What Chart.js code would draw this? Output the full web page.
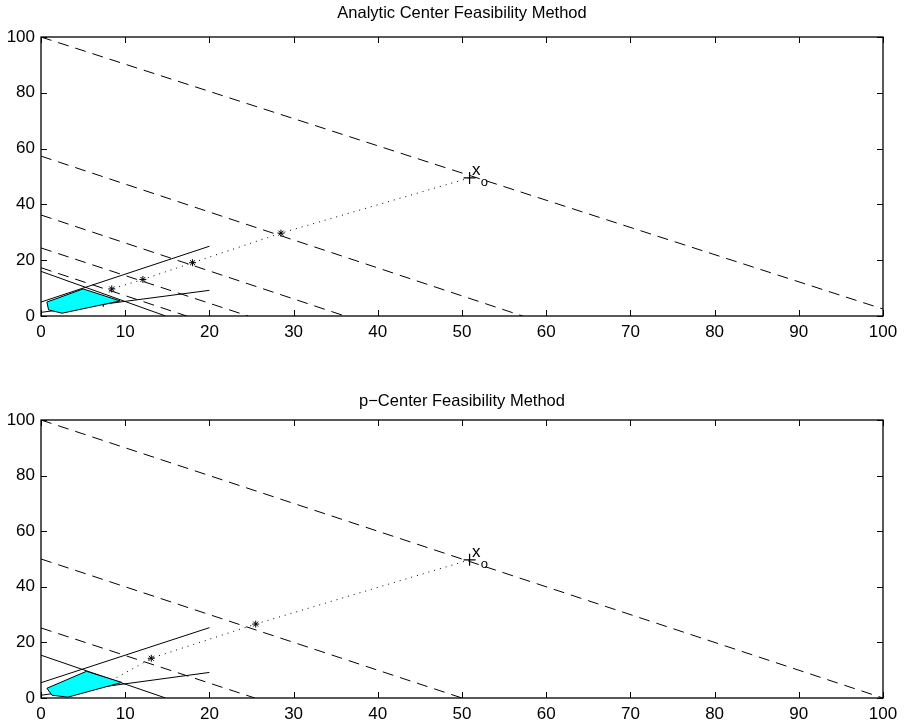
<!DOCTYPE html>
<html>
<head>
<title>Feasibility Methods</title>
<script src="https://cdn.jsdelivr.net/npm/chart.js"></script>
<style>
    body {
        margin: 0;
        background: #fff;
        width: 907px;
        height: 724px;
        overflow: hidden;
        position: relative;
    }
    canvas { position: absolute; left: 0; }
    #topChart { top: 0; }
    #bottomChart { top: 383px; }
</style>
</head>
<body>
<canvas id="topChart" width="907" height="345"></canvas>
<canvas id="bottomChart" width="907" height="341"></canvas>

<script>
// ---- data ----
const xTicks = [0, 10, 20, 30, 40, 50, 60, 70, 80, 90, 100];
const yTicks = [0, 20, 40, 60, 80, 100];

// Analytic center plot
const acTitle = 'Analytic Center Feasibility Method';
const acDashed = [[[0, 100], [100, 2.5]], [[0, 57.3], [57.2, 0]], [[0, 36.2], [36.1, 0]], [[0, 24.4], [24.6, 0]], [[0, 17.3], [17.3, 0]]];
const acSolid = [[[0, 5], [20, 25]], [[0, 1.3], [20, 9.2]], [[0, 16], [14.8, 0]]];
const acRegion = [[0.7, 5.0], [0.9, 2.2], [2.5, 1.0], [9.4, 5.4], [5.0, 9.7]];
const acPathX = [50.9, 28.5, 18.0, 12.1, 8.4, 7.4];
const acPathY = [49.5, 29.7, 19.1, 13.1, 9.7, 5.5];
const acStarX = [28.5, 18.0, 12.1, 8.4];
const acStarY = [29.7, 19.1, 13.1, 9.7];
const acPlusX = [50.9, 7.4];
const acPlusY = [49.5, 5.5];

// p-center plot
const pcTitle = 'p\u2212Center Feasibility Method';
const pcDashed = [[[0, 100], [100, 0]], [[0, 50], [50, 0]], [[0, 25.2], [25.4, 0]]];
const pcSolid = [[[0, 5.5], [20, 25.3]], [[0, 1.0], [20, 9.2]], [[0, 15.4], [14.8, 0]]];
const pcRegion = [[0.7, 3.5], [1.3, 1.0], [3.2, 0.3], [9.6, 5.6], [5.4, 9.6]];
const pcPathX = [50.9, 25.5, 13.1, 8.5];
const pcPathY = [49.7, 26.6, 14.3, 6.5];
const pcStarX = [25.5, 13.1];
const pcStarY = [26.6, 14.3];
const pcPlusX = [50.9];
const pcPlusY = [49.7];

// start point label x_o
const startLabelX = 51.7;
const startLabelY = 52.3;

const FONT = "'Liberation Sans', Arial, Helvetica, sans-serif";

function pts(xs, ys) {
    return xs.map((x, i) => ({ x: x, y: ys[i] }));
}
function seg(s) {
    return s.map(p => ({ x: p[0], y: p[1] }));
}

// inward ticks on all four sides + box + title + x_o label, like a matlab axes
const boxPlugin = {
    id: 'box',
    afterDatasetsDraw(chart, args, opts) {
        const ctx = chart.ctx;
        const a = chart.chartArea;
        const xs = chart.scales.x, ys = chart.scales.y;
        const len = 6;
        ctx.save();
        ctx.strokeStyle = '#000';
        ctx.lineWidth = 1;
        ctx.beginPath();
        xTicks.forEach(v => {
            const px = Math.round(xs.getPixelForValue(v)) + 0.5;
            ctx.moveTo(px, a.bottom); ctx.lineTo(px, a.bottom - len);
            ctx.moveTo(px, a.top); ctx.lineTo(px, a.top + len);
        });
        yTicks.forEach(v => {
            const py = Math.round(ys.getPixelForValue(v)) + 0.5;
            ctx.moveTo(a.left, py); ctx.lineTo(a.left + len, py);
            ctx.moveTo(a.right, py); ctx.lineTo(a.right - len, py);
        });
        ctx.stroke();
        ctx.lineWidth = 1.3;
        ctx.strokeRect(a.left, a.top, a.right - a.left, a.bottom - a.top);

        ctx.fillStyle = '#000';
        ctx.textAlign = 'center';
        ctx.textBaseline = 'middle';
        // title
        ctx.font = '16.5px ' + FONT;
        ctx.fillText(opts.title, (a.left + a.right) / 2, opts.titleY);
        // x_o label
        const lx = xs.getPixelForValue(startLabelX);
        const ly = ys.getPixelForValue(startLabelY);
        ctx.font = '17px ' + FONT;
        ctx.fillText('x', lx, ly);
        ctx.font = '13px ' + FONT;
        ctx.fillText('o', lx + 8, ly + 12);
        ctx.restore();
    }
};

function makePlot(id, title, titleY, dashed, solid, region, pathX, pathY, starX, starY, plusX, plusY, bottomH) {
    const datasets = [];
    datasets.push({
        data: seg(region.concat([region[0]])),
        showLine: true,
        fill: 'shape',
        backgroundColor: '#00ffff',
        borderColor: '#000',
        borderWidth: 1,
        pointRadius: 0,
        tension: 0
    });
    dashed.forEach(s => datasets.push({
        data: seg(s), showLine: true, borderColor: '#000', borderWidth: 1,
        borderDash: [11, 7], pointRadius: 0
    }));
    solid.forEach(s => datasets.push({
        data: seg(s), showLine: true, borderColor: '#000', borderWidth: 1, pointRadius: 0
    }));
    datasets.push({
        data: pts(pathX, pathY), showLine: true, borderColor: '#000', borderWidth: 1,
        borderDash: [1, 5], pointRadius: 0
    });
    datasets.push({
        data: pts(starX, starY), showLine: false, pointStyle: 'star', pointRadius: 3.5,
        borderColor: '#000', borderWidth: 1
    });
    datasets.push({
        data: pts(plusX, plusY), showLine: false, pointStyle: 'cross', pointRadius: 6,
        borderColor: '#000', borderWidth: 1.2
    });

    new Chart(document.getElementById(id), {
        type: 'scatter',
        data: { datasets: datasets },
        options: {
            responsive: false,
            animation: false,
            layout: { padding: { left: 0, right: 24, top: 37, bottom: 0 } },
            plugins: {
                legend: { display: false },
                tooltip: { enabled: false },
                title: { display: false },
                box: { title: title, titleY: titleY }
            },
            scales: {
                x: {
                    type: 'linear', min: 0, max: 100,
                    afterBuildTicks: s => { s.ticks = xTicks.map(v => ({ value: v })); },
                    afterFit: s => { s.height = bottomH; },
                    grid: { display: false, drawTicks: false },
                    border: { display: false },
                    ticks: { color: '#000', padding: 6, font: { family: FONT, size: 17 } }
                },
                y: {
                    type: 'linear', min: 0, max: 100,
                    afterBuildTicks: s => { s.ticks = yTicks.map(v => ({ value: v })); },
                    afterFit: s => { s.width = 41; },
                    grid: { display: false, drawTicks: false },
                    border: { display: false },
                    ticks: { color: '#000', padding: 6, font: { family: FONT, size: 17 } }
                }
            }
        },
        plugins: [boxPlugin]
    });
}

makePlot('topChart', acTitle, 13, acDashed, acSolid, acRegion, acPathX, acPathY, acStarX, acStarY, acPlusX, acPlusY, 29);
makePlot('bottomChart', pcTitle, 18, pcDashed, pcSolid, pcRegion, pcPathX, pcPathY, pcStarX, pcStarY, pcPlusX, pcPlusY, 26);
</script>
</body>
</html>
